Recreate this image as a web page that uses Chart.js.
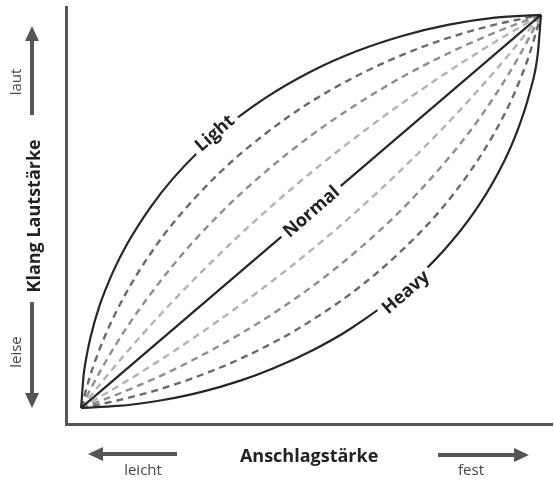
<!DOCTYPE html>
<html>
<head>
<meta charset="utf-8">
<title>Anschlagdynamik</title>
<script src="https://cdn.jsdelivr.net/npm/chart.js@4.4.1/dist/chart.umd.min.js"></script>
<style>
  html, body { margin: 0; padding: 0; background: #fff; }
  #wrap { width: 554px; height: 481px; }
</style>
</head>
<body>
<div id="wrap"><canvas id="kurven" width="554" height="481"></canvas></div>
<script>
"use strict";

/* ================================
   DATEN (0..100 = leise/leicht .. laut/fest)
   ================================ */
const lightX = [0, 0.5, 1, 2, 4, 7, 10, 15, 20, 30, 40, 50, 60, 70, 80, 90, 100];
const lightY = [0, 7.9, 12, 17.8, 26, 34.8, 41.7, 50.9, 58.4, 70, 78.8, 85.6, 90.8, 94.7, 97.5, 99.3, 100];

const soft1X = [0, 2, 5, 10, 15, 20, 30, 40, 50, 60, 70, 80, 90, 100];
const soft1Y = [0, 8.3, 17.8, 29.7, 39.1, 47.0, 59.7, 69.7, 77.9, 84.5, 89.9, 94.2, 97.5, 100];

const soft2X = [0, 2, 5, 10, 20, 30, 40, 50, 60, 70, 80, 90, 100];
const soft2Y = [0, 4.7, 11.1, 20.6, 36.3, 49.2, 60, 69.3, 77.3, 84.3, 90.3, 95.5, 100];

const soft3X = [0, 5, 10, 20, 30, 40, 50, 60, 70, 80, 90, 100];
const soft3Y = [0, 7.3, 14.3, 27.2, 39, 49.9, 59.9, 69.1, 77.7, 85.7, 93.1, 100];

const normalX = [0, 100];
const normalY = [0, 100];

const hard3X = [0, 7.3, 14.3, 27.2, 39, 49.9, 59.9, 69.1, 77.7, 85.7, 93.1, 100];
const hard3Y = [0, 5, 10, 20, 30, 40, 50, 60, 70, 80, 90, 100];

const hard2X = [0, 4.7, 11.1, 20.6, 36.3, 49.2, 60, 69.3, 77.3, 84.3, 90.3, 95.5, 100];
const hard2Y = [0, 2, 5, 10, 20, 30, 40, 50, 60, 70, 80, 90, 100];

const hard1X = [0, 8.3, 17.8, 29.7, 39.1, 47.0, 59.7, 69.7, 77.9, 84.5, 89.9, 94.2, 97.5, 100];
const hard1Y = [0, 2, 5, 10, 15, 20, 30, 40, 50, 60, 70, 80, 90, 100];

const heavyX = [0, 7.9, 12, 17.8, 26, 34.8, 41.7, 50.9, 58.4, 70, 78.8, 85.6, 90.8, 94.7, 97.5, 99.3, 100];
const heavyY = [0, 0.5, 1, 2, 4, 7, 10, 15, 20, 30, 40, 50, 60, 70, 80, 90, 100];

// Beschriftung auf den Kurven (Text + Ankerpunkt in Datenwerten)
const kurvenNamen = ["Light", "Normal", "Heavy"];
const kurvenAnker = [[29, 70], [50, 50], [70.5, 29.5]];

/* ================================
   STIL
   ================================ */
const FONT = "'Open Sans', 'Noto Sans', sans-serif";
const SOLID = "#262626";
const DASH = [7, 5];

function serie(xs, ys, color, width, dash) {
  return {
    data: xs.map((x, i) => ({ x: x, y: ys[i] })),
    borderColor: color,
    borderWidth: width,
    borderDash: dash || [],
    showLine: true,
    pointRadius: 0,
    pointHoverRadius: 0,
    cubicInterpolationMode: "monotone",
    clip: false
  };
}

/* ================================
   PLUGIN: Kurvenbeschriftung
   ================================ */
const kurvenLabels = {
  id: "kurvenLabels",
  afterDatasetsDraw(chart) {
    const { ctx, scales } = chart;
    ctx.save();
    ctx.font = "bold 18px " + FONT;
    ctx.textAlign = "center";
    ctx.textBaseline = "middle";
    kurvenNamen.forEach((txt, i) => {
      const px = scales.x.getPixelForValue(kurvenAnker[i][0]);
      const py = scales.y.getPixelForValue(kurvenAnker[i][1]);
      const w = ctx.measureText(txt).width;
      ctx.save();
      ctx.translate(px, py);
      ctx.rotate(-41 * Math.PI / 180);
      ctx.fillStyle = "#fff";
      ctx.fillRect(-w / 2 - 5, -9, w + 10, 18);
      ctx.fillStyle = "#222";
      ctx.fillText(txt, 0, 1);
      ctx.restore();
    });
    ctx.restore();
  }
};

/* ================================
   PLUGIN: Pfeile + kleine Texte
   ================================ */
function pfeil(ctx, x1, y1, x2, y2) {
  const ang = Math.atan2(y2 - y1, x2 - x1);
  const len = 15, half = 7;
  const bx = x2 - Math.cos(ang) * len;
  const by = y2 - Math.sin(ang) * len;
  ctx.beginPath();
  ctx.moveTo(x1, y1);
  ctx.lineTo(bx, by);
  ctx.stroke();
  ctx.beginPath();
  ctx.moveTo(x2, y2);
  ctx.lineTo(bx + Math.sin(ang) * half, by - Math.cos(ang) * half);
  ctx.lineTo(bx - Math.sin(ang) * half, by + Math.cos(ang) * half);
  ctx.closePath();
  ctx.fill();
}

const extras = {
  id: "extras",
  afterDraw(chart) {
    const ctx = chart.ctx;
    ctx.save();
    ctx.strokeStyle = "#555";
    ctx.fillStyle = "#555";
    ctx.lineWidth = 4;
    pfeil(ctx, 32, 115, 32, 26);
    pfeil(ctx, 32, 302, 32, 408);
    pfeil(ctx, 177, 454, 88, 454);
    pfeil(ctx, 438, 455, 529, 455);

    ctx.fillStyle = "#444";
    ctx.font = "15px " + FONT;
    ctx.textAlign = "center";
    ctx.textBaseline = "middle";
    ctx.fillText("leicht", 143, 471);
    ctx.fillText("fest", 471, 471);
    ctx.save();
    ctx.translate(17, 82);
    ctx.rotate(-Math.PI / 2);
    ctx.fillText("laut", 0, 0);
    ctx.restore();
    ctx.save();
    ctx.translate(17, 352);
    ctx.rotate(-Math.PI / 2);
    ctx.fillText("leise", 0, 0);
    ctx.restore();
    ctx.restore();
  }
};

/* ================================
   CHART
   ================================ */
const ctx = document.getElementById("kurven").getContext("2d");

new Chart(ctx, {
  type: "scatter",
  data: {
    datasets: [
      serie(lightX, lightY, SOLID, 2.2),
      serie(normalX, normalY, SOLID, 2.2),
      serie(heavyX, heavyY, SOLID, 2.2),
      serie(soft1X, soft1Y, "#6a6a6a", 2.4, DASH),
      serie(soft2X, soft2Y, "#8e8e8e", 2.4, DASH),
      serie(soft3X, soft3Y, "#b2b2b2", 2.4, DASH),
      serie(hard3X, hard3Y, "#b2b2b2", 2.4, DASH),
      serie(hard2X, hard2Y, "#8e8e8e", 2.4, DASH),
      serie(hard1X, hard1Y, "#6a6a6a", 2.4, DASH)
    ]
  },
  options: {
    responsive: false,
    animation: false,
    events: [],
    layout: { padding: { left: 20.2, right: 2, top: 7, bottom: 8 } },
    plugins: { legend: { display: false }, tooltip: { enabled: false } },
    scales: {
      x: {
        type: "linear",
        min: -3.25,
        max: 102.4,
        grid: { display: false, drawTicks: false },
        ticks: { display: false },
        border: { display: true, color: "#555", width: 3 },
        title: {
          display: true,
          text: "Anschlagstärke",
          color: "#222",
          font: { family: FONT, size: 18, weight: "bold" },
          padding: { top: 20.8, bottom: 5.8 }
        }
      },
      y: {
        type: "linear",
        min: -4.3,
        max: 102.0,
        grid: { display: false, drawTicks: false },
        ticks: { display: false },
        border: { display: true, color: "#555", width: 3 },
        title: {
          display: true,
          text: "Klang Lautstärke",
          color: "#222",
          font: { family: FONT, size: 18, weight: "bold" },
          padding: { top: 3.6, bottom: 20.8 }
        }
      }
    }
  },
  plugins: [kurvenLabels, extras]
});
</script>
</body>
</html>
